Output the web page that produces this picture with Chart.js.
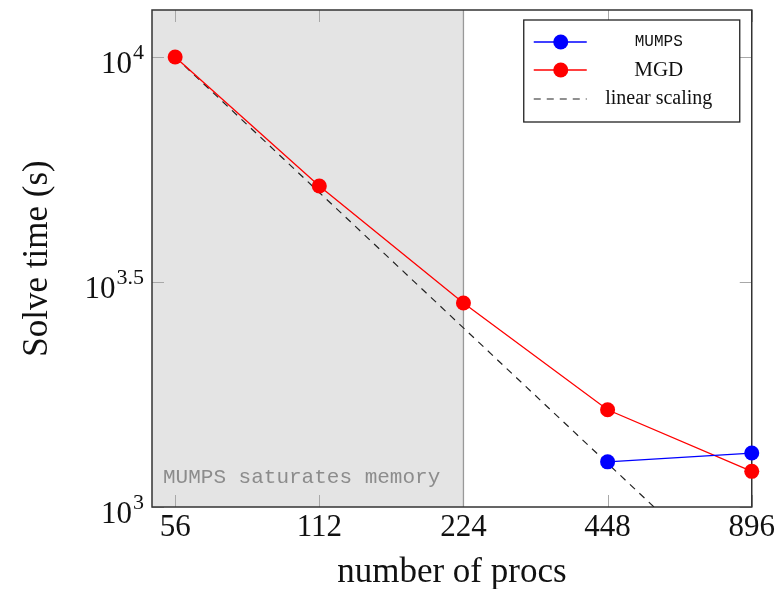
<!DOCTYPE html>
<html lang="en">
<head>
<meta charset="UTF-8">
<title>Solve time</title>
<script src="https://cdn.jsdelivr.net/npm/chart.js"></script>
<style>
  body { margin: 0; background: #fff; }
  #wrap { width: 777px; height: 589px; }
</style>
</head>
<body>
<div id="wrap"><canvas id="solveChart"></canvas></div>
<script>
// data
const procs = [56, 112, 224, 448, 896];
const mgdTime = [10000, 5170, 2840, 1645, 1200];
const mumpsProcs = [448, 896];
const mumpsTime = [1260, 1318];
const linearTime = [10000, 5000, 2500, 1250, 625];
const yTicks = [1000, 10 ** 3.5, 10000];
const memoryLimit = 224;

const serif = '"Liberation Serif", serif';
const mono = '"Liberation Mono", monospace';

const frame = {
  id: 'frame',
  beforeDatasetsDraw(chart) {
    const { ctx, chartArea: a, scales: { x, y } } = chart;
    const xm = x.getPixelForValue(memoryLimit);
    ctx.save();
    // shaded memory region
    ctx.fillStyle = '#e4e4e4';
    ctx.fillRect(a.left, a.top, xm - a.left, a.bottom - a.top);
    ctx.fillStyle = '#8c8c8c';
    ctx.font = '21px ' + mono;
    ctx.textBaseline = 'alphabetic';
    ctx.fillText('MUMPS saturates memory', a.left + 11, a.bottom - 24);
    // small inner tick marks
    ctx.strokeStyle = '#a8a8a8';
    ctx.lineWidth = 1;
    procs.forEach(p => {
      const px = Math.round(x.getPixelForValue(p)) + 0.5;
      ctx.beginPath();
      ctx.moveTo(px, a.bottom); ctx.lineTo(px, a.bottom - 12);
      ctx.moveTo(px, a.top); ctx.lineTo(px, a.top + 12);
      ctx.stroke();
    });
    yTicks.forEach(v => {
      const py = Math.round(y.getPixelForValue(v)) + 0.5;
      ctx.beginPath();
      ctx.moveTo(a.left, py); ctx.lineTo(a.left + 12, py);
      ctx.moveTo(a.right, py); ctx.lineTo(a.right - 12, py);
      ctx.stroke();
    });
    ctx.strokeStyle = '#999';
    ctx.lineWidth = 1.3;
    ctx.beginPath();
    ctx.moveTo(xm, a.top); ctx.lineTo(xm, a.bottom);
    ctx.stroke();
    // axis box
    ctx.strokeStyle = '#333';
    ctx.lineWidth = 1.5;
    ctx.strokeRect(a.left, a.top, a.right - a.left, a.bottom - a.top);
    ctx.restore();
  },
  afterDraw(chart) {
    const { ctx, chartArea: a, scales: { y } } = chart;
    ctx.save();
    // y tick labels as 10^k
    ctx.fillStyle = '#111';
    ctx.textBaseline = 'alphabetic';
    ctx.textAlign = 'right';
    yTicks.forEach(v => {
      const py = y.getPixelForValue(v);
      const exp = String(Math.round(Math.log10(v) * 10) / 10);
      ctx.font = '22px ' + serif;
      const ew = ctx.measureText(exp).width;
      const xr = a.left - 8;
      ctx.fillText(exp, xr, py + 2);
      ctx.font = '31px ' + serif;
      ctx.fillText('10', xr - ew - 1, py + 16);
    });
    // legend box
    const w = 216, h = 102;
    const lx = a.right - 12 - w, ly = a.top + 10;
    ctx.fillStyle = '#fff';
    ctx.fillRect(lx, ly, w, h);
    ctx.strokeStyle = '#222';
    ctx.lineWidth = 1.3;
    ctx.strokeRect(lx, ly, w, h);
    const rows = [22, 50, 79];
    const fonts = ['16px ' + mono, '21px ' + serif, '20px ' + serif];
    chart.data.datasets.forEach((ds, i) => {
      const ry = ly + rows[i];
      ctx.strokeStyle = ds.borderColor;
      ctx.lineWidth = ds.borderWidth;
      ctx.setLineDash(ds.borderDash || []);
      ctx.beginPath();
      ctx.moveTo(lx + 10, ry); ctx.lineTo(lx + 63, ry);
      ctx.stroke();
      ctx.setLineDash([]);
      if (ds.pointRadius > 0) {
        ctx.fillStyle = ds.pointBackgroundColor;
        ctx.beginPath();
        ctx.arc(lx + 37, ry, ds.pointRadius, 0, Math.PI * 2);
        ctx.fill();
      }
      ctx.fillStyle = '#111';
      ctx.font = fonts[i];
      ctx.textAlign = 'center';
      ctx.textBaseline = 'middle';
      ctx.fillText(ds.label, lx + 135, ry);
    });
    ctx.restore();
  }
};

new Chart(document.getElementById('solveChart'), {
  type: 'line',
  data: {
    datasets: [{
      label: 'MUMPS',
      data: mumpsProcs.map((p, i) => ({ x: p, y: mumpsTime[i] })),
      borderColor: '#0000ff',
      backgroundColor: '#0000ff',
      pointBackgroundColor: '#0000ff',
      borderWidth: 1.3,
      pointRadius: 7.5,
      pointBorderWidth: 0,
      clip: false
    }, {
      label: 'MGD',
      data: procs.map((p, i) => ({ x: p, y: mgdTime[i] })),
      borderColor: '#ff0000',
      backgroundColor: '#ff0000',
      pointBackgroundColor: '#ff0000',
      borderWidth: 1.3,
      pointRadius: 7.5,
      pointBorderWidth: 0,
      clip: false
    }, {
      label: 'linear scaling',
      data: procs.map((p, i) => ({ x: p, y: linearTime[i] })),
      borderColor: '#222',
      borderWidth: 1.2,
      borderDash: [7, 6],
      pointRadius: 0,
      clip: 0
    }]
  },
  options: {
    responsive: true,
    maintainAspectRatio: false,
    animation: false,
    layout: { padding: { top: 10, right: 23, left: 0, bottom: 0 } },
    plugins: { legend: { display: false }, tooltip: { enabled: false } },
    scales: {
      x: {
        type: 'logarithmic',
        min: 50.1,
        max: 896,
        afterBuildTicks: s => { s.ticks = procs.map(v => ({ value: v })); },
        afterFit: s => { s.height = 82; },
        grid: { display: false, drawTicks: false },
        border: { display: false },
        ticks: {
          autoSkip: false, maxRotation: 0, padding: 2,
          color: '#111', font: { family: serif, size: 31 },
          callback: v => String(v)
        },
        title: {
          display: true, text: 'number of procs', color: '#111',
          font: { family: serif, size: 35 }, padding: { top: 0, bottom: -5 }
        }
      },
      y: {
        type: 'logarithmic',
        min: 1000,
        max: 12720,
        afterBuildTicks: s => { s.ticks = yTicks.map(v => ({ value: v })); },
        afterFit: s => { s.width = 152; },
        grid: { display: false },
        border: { display: false },
        ticks: { display: false },
        title: {
          display: true, text: 'Solve time (s)', color: '#111',
          font: { family: serif, size: 35 }, padding: { top: 17, bottom: 0 }
        }
      }
    }
  },
  plugins: [frame]
});
</script>
</body>
</html>
